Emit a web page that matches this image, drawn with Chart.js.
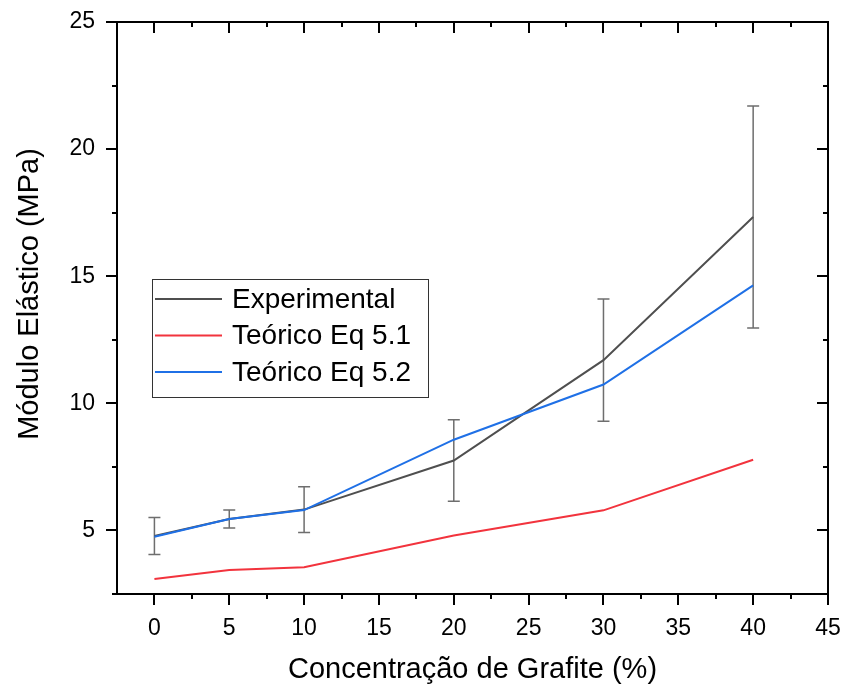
<!DOCTYPE html>
<html>
<head>
<meta charset="utf-8">
<script src="https://cdn.jsdelivr.net/npm/chart.js@4.4.1/dist/chart.umd.min.js"></script>
<style>
  html, body { margin: 0; padding: 0; background: #fff; }
  #wrap { width: 845px; height: 686px; }
</style>
</head>
<body>
<div id="wrap"><canvas id="grafico"></canvas></div>
<script>
// dados
const concentracao = [0, 5, 10, 20, 30, 40];
const experimental = [4.78, 5.45, 5.82, 7.75, 11.7, 17.33];
const erroExperimental = [0.73, 0.35, 0.9, 1.6, 2.4, 4.37];
const teoricoEq51 = [3.09, 3.44, 3.55, 4.8, 5.79, 7.78];
const teoricoEq52 = [4.75, 5.45, 5.8, 8.57, 10.74, 14.64];

const xTicks = [0, 5, 10, 15, 20, 25, 30, 35, 40, 45];
const yTicks = [5, 10, 15, 20, 25];
const xMinor = [2.5, 7.5, 12.5, 17.5, 22.5, 27.5, 32.5, 37.5, 42.5];
const yMinor = [2.5, 7.5, 12.5, 17.5, 22.5];

const fonte = '"Liberation Sans", Arial, sans-serif';

function pontos(ys) {
    return concentracao.map((x, i) => ({ x: x, y: ys[i] }));
}

// zera o espaço extra que o Chart.js reserva para os rótulos das pontas
function semSobra(axis) {
    axis.paddingLeft = 0;
    axis.paddingRight = 0;
    axis.paddingTop = 0;
    axis.paddingBottom = 0;
}

// barras de erro, moldura, marcas e legenda
const extras = {
    id: 'extras',
    beforeDatasetsDraw(chart) {
        const ctx = chart.ctx;
        const x = chart.scales.x, y = chart.scales.y;
        ctx.save();
        ctx.strokeStyle = '#6e6e6e';
        ctx.lineWidth = 1.5;
        concentracao.forEach((c, i) => {
            const px = x.getPixelForValue(c);
            const top = y.getPixelForValue(experimental[i] + erroExperimental[i]);
            const bot = y.getPixelForValue(experimental[i] - erroExperimental[i]);
            ctx.beginPath();
            ctx.moveTo(px, top); ctx.lineTo(px, bot);
            ctx.moveTo(px - 6, top); ctx.lineTo(px + 6, top);
            ctx.moveTo(px - 6, bot); ctx.lineTo(px + 6, bot);
            ctx.stroke();
        });
        ctx.restore();
    },
    afterDraw(chart) {
        const ctx = chart.ctx;
        const a = chart.chartArea;
        const x = chart.scales.x, y = chart.scales.y;
        ctx.save();
        ctx.strokeStyle = '#000';
        ctx.lineWidth = 2;
        ctx.strokeRect(a.left, a.top, a.right - a.left, a.bottom - a.top);

        ctx.beginPath();
        xTicks.concat(xMinor).forEach(v => {
            const len = xTicks.includes(v) ? 11 : 5;
            const px = Math.round(x.getPixelForValue(v));
            ctx.moveTo(px, a.bottom); ctx.lineTo(px, a.bottom + len);
            ctx.moveTo(px, a.top); ctx.lineTo(px, a.top + len);
        });
        yTicks.concat(yMinor).forEach(v => {
            const len = yTicks.includes(v) ? 11 : 5;
            const py = Math.round(y.getPixelForValue(v));
            ctx.moveTo(a.left, py); ctx.lineTo(a.left - len, py);
            ctx.moveTo(a.right, py); ctx.lineTo(a.right - len, py);
        });
        ctx.stroke();

        // títulos dos eixos
        ctx.fillStyle = '#000';
        ctx.font = '29px ' + fonte;
        ctx.textAlign = 'center';
        ctx.textBaseline = 'alphabetic';
        ctx.fillText('Concentração de Grafite (%)', (a.left + a.right) / 2, 678);
        ctx.save();
        ctx.translate(38, 294);
        ctx.rotate(-Math.PI / 2);
        ctx.fillText('Módulo Elástico (MPa)', 0, 0);
        ctx.restore();

        // legenda
        const lx = 152, ly = 279, lw = 276, lh = 118;
        ctx.fillStyle = '#fff';
        ctx.fillRect(lx, ly, lw, lh);
        ctx.strokeStyle = '#333';
        ctx.lineWidth = 1;
        ctx.strokeRect(lx + 0.5, ly + 0.5, lw, lh);
        ctx.font = '28px ' + fonte;
        ctx.textAlign = 'left';
        ctx.textBaseline = 'middle';
        chart.data.datasets.forEach((ds, i) => {
            const cy = 299 + i * 36.5;
            ctx.strokeStyle = ds.borderColor;
            ctx.lineWidth = 2;
            ctx.beginPath();
            ctx.moveTo(155, cy); ctx.lineTo(222, cy);
            ctx.stroke();
            ctx.fillStyle = '#000';
            ctx.fillText(ds.label, 232, cy + 1);
        });
        ctx.restore();
    }
};

new Chart(document.getElementById('grafico'), {
    type: 'line',
    data: {
        datasets: [
            { label: 'Experimental', data: pontos(experimental), borderColor: '#4f4f4f', order: 2 },
            { label: 'Teórico Eq 5.1', data: pontos(teoricoEq51), borderColor: '#f2333d', order: 1 },
            { label: 'Teórico Eq 5.2', data: pontos(teoricoEq52), borderColor: '#1f70e6', order: 0 }
        ]
    },
    options: {
        responsive: true,
        maintainAspectRatio: false,
        animation: false,
        layout: { padding: { top: 22, right: 17, left: 0, bottom: 0 } },
        elements: {
            line: { borderWidth: 2, tension: 0, fill: false },
            point: { radius: 0, hoverRadius: 0 }
        },
        plugins: {
            legend: { display: false },
            tooltip: { enabled: false }
        },
        scales: {
            x: {
                type: 'linear',
                min: -2.5,
                max: 45,
                grid: { display: false, drawTicks: false },
                border: { display: false },
                afterBuildTicks: axis => { axis.ticks = xTicks.map(v => ({ value: v })); },
                afterFit: axis => { axis.height = 92; semSobra(axis); },
                ticks: {
                    padding: 21,
                    color: '#000',
                    maxRotation: 0,
                    autoSkip: false,
                    font: { family: fonte, size: 23 }
                }
            },
            y: {
                type: 'linear',
                min: 2.5,
                max: 25,
                grid: { display: false, drawTicks: false },
                border: { display: false },
                afterBuildTicks: axis => { axis.ticks = yTicks.map(v => ({ value: v })); },
                afterFit: axis => { axis.width = 117; semSobra(axis); },
                ticks: {
                    padding: 22,
                    color: '#000',
                    autoSkip: false,
                    font: { family: fonte, size: 23 }
                }
            }
        }
    },
    plugins: [extras]
});
</script>
</body>
</html>
